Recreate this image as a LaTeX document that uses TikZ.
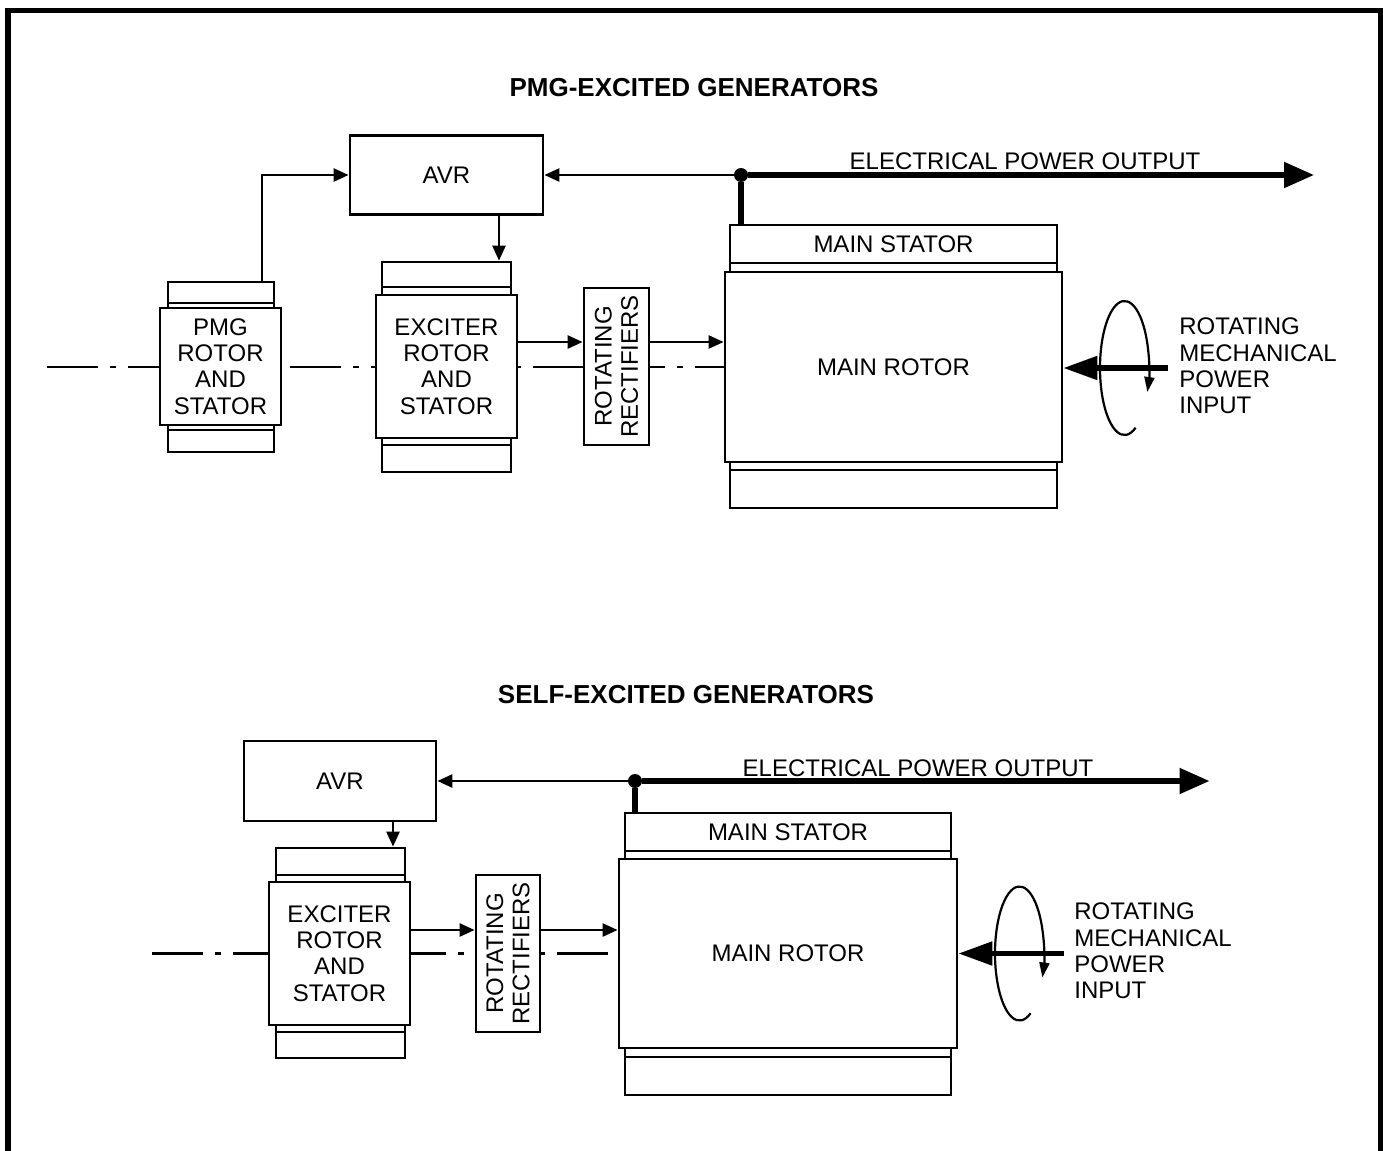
\documentclass[tikz,border=0pt]{standalone}
\usepackage{fontspec}
\setmainfont{Liberation Sans}
\usepackage{tikz}
\usetikzlibrary{arrows.meta}

\begin{document}
\begin{tikzpicture}
[x=0.5pt,y=-0.5pt,
every node/.style={inner sep=0pt,font=\fontsize{12pt}{13.2pt}\selectfont},
box/.style={draw,fill=white,line width=1.4pt,align=center},
title/.style={font=\fontsize{13pt}{15pt}\selectfont\bfseries},
junction/.style={circle,fill=black,minimum size=7pt},
arr/.style={line width=1.3pt,-{Triangle[length=7.5pt,width=6.5pt]}},
bigarr/.style={line width=2.6pt,-{Triangle[length=15pt,width=12.5pt]}},
inarr/.style={line width=2.6pt,-{Triangle[length=17pt,width=11.5pt]}},
rotarr/.style={line width=1.1pt,-{Triangle[length=7.5pt,width=5pt]}},
axis/.style={line width=1.2pt,dash pattern=on 25.5pt off 6pt on 3pt off 6pt}]
\useasboundingbox (0,0) rectangle (1383,1151);
\draw[line width=2.6pt] (8,1170) -- (8,10.5) -- (1380.5,10.5) -- (1380.5,1170);

% PMG-excited
\node[title] (title1) at (694,88) {PMG-EXCITED GENERATORS};
\draw[axis] (47,367) -- (725,367);
\node[box,minimum width=96.5pt,minimum height=39.5pt] (avr1) at (446.5,175) {AVR};
\node[box,minimum width=60.5pt,minimum height=58.5pt] (pmg) at (220.5,366.5) {PMG\\ROTOR\\AND\\STATOR};
\node[box,minimum width=53pt,minimum height=10.5pt] (pmgcap1) at (221,292.5) {};
\node[box,minimum width=53pt,minimum height=2.5pt] (pmgstrip1) at (221,305.5) {};
\node[box,minimum width=53pt,minimum height=2.5pt] (pmgstrip2) at (221,427.5) {};
\node[box,minimum width=53pt,minimum height=11pt] (pmgcap2) at (221,441) {};
\node[box,minimum width=70.5pt,minimum height=71.5pt] (ex1) at (446.5,366.5) {EXCITER\\ROTOR\\AND\\STATOR};
\node[box,minimum width=64.5pt,minimum height=12.5pt] (excap1) at (446.5,274.5) {};
\node[box,minimum width=64.5pt,minimum height=4pt] (exstrip1) at (446.5,291) {};
\node[box,minimum width=64.5pt,minimum height=3.5pt] (exstrip2) at (446.5,441.5) {};
\node[box,minimum width=64.5pt,minimum height=13.5pt] (excap2) at (446.5,458.5) {};
\node[box,rotate=90,minimum width=78.5pt,minimum height=32.5pt] (rect1) at (616.5,366.5) {ROTATING\\RECTIFIERS};
\node[box,minimum width=168.5pt,minimum height=95pt] (main1) at (893.5,367) {MAIN ROTOR};
\node[box,minimum width=163.5pt,minimum height=19pt] (stator1) at (893.5,244) {MAIN STATOR};
\node[box,minimum width=163.5pt,minimum height=4.5pt] (statorstrip1) at (893.5,267.5) {};
\node[box,minimum width=163.5pt,minimum height=4pt] (mainstrip1) at (893.5,466) {};
\node[box,minimum width=163.5pt,minimum height=19pt] (maincap1) at (893.5,489) {};
\node[junction] (dot1) at (741,175) {};
\coordinate (out1) at (1314,175);
\coordinate (in1) at (1168,368);
\node (eout1) at (1025,161) {ELECTRICAL POWER OUTPUT};
\node[anchor=west,align=left] (mech1) at (1179,366) {ROTATING\\MECHANICAL\\POWER\\INPUT};

\draw[arr] ([xshift=20.5pt]pmgcap1.north) |- (avr1.west);
\draw[arr] ([xshift=26.25pt]avr1.south) -- ([xshift=26.25pt]excap1.north);
% rect1 is turned: its north is on the left, its south on the right
\draw[arr] ([yshift=12.25pt]ex1.east) -- ([yshift=12.25pt]rect1.north);
\draw[arr] ([yshift=12.25pt]rect1.south) -- ([yshift=12.25pt]rect1.south -| main1.west);
\draw[arr] (dot1) -- (avr1.east);
\draw[line width=2.6pt] (dot1) -- (dot1 |- stator1.north);
\draw[bigarr] (dot1) -- (out1);
\draw[rotarr] (1124.5,368) ++(-63:12.25pt and 33.5pt) arc[start angle=-63,end angle=-381,x radius=12.25pt,y radius=33.5pt];
\draw[inarr] (in1) -- (in1 -| main1.east);

% self-excited
\node[title] (title2) at (686,695) {SELF-EXCITED GENERATORS};
\draw[axis] (152,953.5) -- (619,953.5);
\node[box,minimum width=96pt,minimum height=40pt] (avr2) at (340,781) {AVR};
\node[box,minimum width=70.5pt,minimum height=71.5pt] (ex2) at (339.5,953.5) {EXCITER\\ROTOR\\AND\\STATOR};
\node[box,minimum width=64.5pt,minimum height=13.5pt] (excap3) at (340.5,861.5) {};
\node[box,minimum width=64.5pt,minimum height=3.5pt] (exstrip3) at (340.5,878.5) {};
\node[box,minimum width=64.5pt,minimum height=3.5pt] (exstrip4) at (340.5,1028.5) {};
\node[box,minimum width=64.5pt,minimum height=13pt] (excap4) at (340.5,1045) {};
\node[box,rotate=90,minimum width=78.5pt,minimum height=32pt] (rect2) at (508,953.5) {ROTATING\\RECTIFIERS};
\node[box,minimum width=169pt,minimum height=94.5pt] (main2) at (788,953.5) {MAIN ROTOR};
\node[box,minimum width=163pt,minimum height=19pt] (stator2) at (788,832) {MAIN STATOR};
\node[box,minimum width=163pt,minimum height=4pt] (statorstrip2) at (788,855) {};
\node[box,minimum width=163pt,minimum height=4.5pt] (mainstrip2) at (788,1052.5) {};
\node[box,minimum width=163pt,minimum height=19pt] (maincap2) at (788,1076) {};
\node[junction] (dot2) at (635,781) {};
\coordinate (out2) at (1209.5,781);
\coordinate (in2) at (1064,953.5);
\node (eout2) at (918,768) {ELECTRICAL POWER OUTPUT};
\node[anchor=west,align=left] (mech2) at (1074,951) {ROTATING\\MECHANICAL\\POWER\\INPUT};

\draw[arr] ([xshift=26.5pt]avr2.south) -- ([xshift=26.5pt]avr2.south |- excap3.north);
\draw[arr] ([yshift=11.75pt]ex2.east) -- ([yshift=11.75pt]rect2.north);
\draw[arr] ([yshift=11.75pt]rect2.south) -- ([yshift=11.75pt]rect2.south -| main2.west);
\draw[arr] (dot2) -- (avr2.east);
\draw[line width=2.6pt] (dot2) -- (dot2 |- stator2.north);
\draw[bigarr] (dot2) -- (out2);
\draw[rotarr] (1019.5,953.5) ++(-63:12.25pt and 33.5pt) arc[start angle=-63,end angle=-381,x radius=12.25pt,y radius=33.5pt];
\draw[inarr] (in2) -- (in2 -| main2.east);
\end{tikzpicture}
\end{document}
